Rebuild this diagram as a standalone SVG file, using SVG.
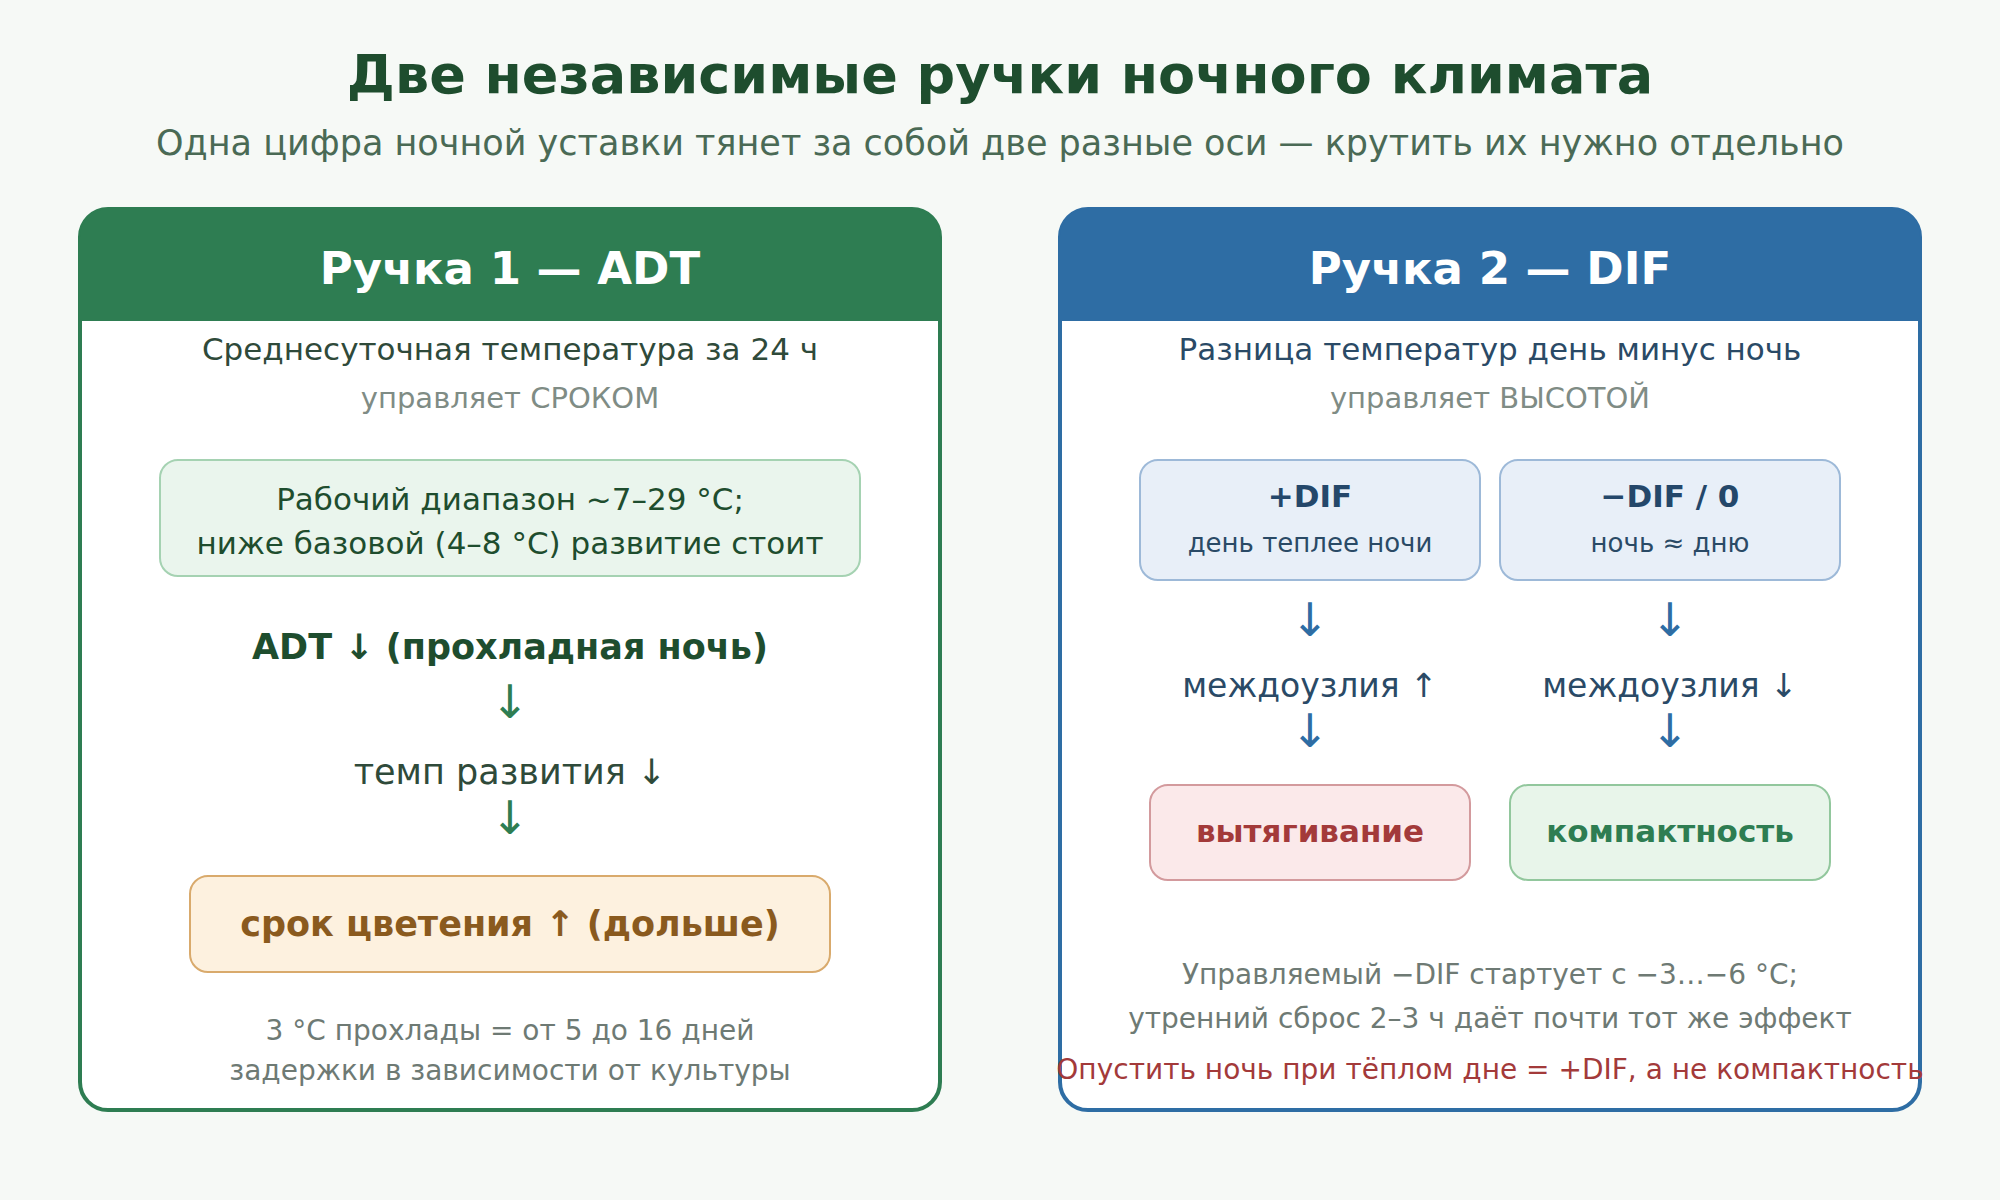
<svg xmlns="http://www.w3.org/2000/svg" width="2000" height="1200" viewBox="0 0 2000 1200">
<style>
text{font-family:"DejaVu Sans","Liberation Sans",sans-serif;text-anchor:middle;dominant-baseline:central}
.t{font-size:54px;font-weight:bold;fill:#1e4d2e}
.st{font-size:35px;fill:#4a6a55}
.h{font-size:45px;font-weight:bold;fill:#fff}
.d{font-size:31px;fill:#2f4a3a}
.db{font-size:31px;fill:#2a4a66}
.g{font-size:29px;fill:#7f8c85}
.n{font-size:28px;fill:#6e7a74}
.arg{font-size:46px;fill:#2e7d52}
.arb{font-size:46px;fill:#2e6da4}
</style>
<rect width="2000" height="1200" fill="#f6f9f6"/>
<text class="t" x="1000" y="74">Две независимые ручки ночного климата</text>
<text class="st" x="1000" y="143">Одна цифра ночной уставки тянет за собой две разные оси — крутить их нужно отдельно</text>
<g id="panel-adt">
<rect x="80" y="209" width="860" height="901" rx="28" fill="#fff" stroke="#2e7d52" stroke-width="4"/>
<path d="M80 321 V237 a28 28 0 0 1 28 -28 H912 a28 28 0 0 1 28 28 V321 Z" fill="#2e7d52"/>
<text class="h" x="510" y="268">Ручка 1 — ADT</text>
<text class="d" x="510" y="349">Среднесуточная температура за 24 ч</text>
<text class="g" x="510" y="398">управляет СРОКОМ</text>
</g>
<g id="range">
<rect x="160" y="460" width="700" height="116" rx="18" fill="#eaf5ed" stroke="#a5d2b2" stroke-width="2"/>
<text class="d" x="510" y="499" style="fill:#1e4d2e">Рабочий диапазон ~7–29 °C;</text>
<text class="d" x="510" y="543" style="fill:#1e4d2e">ниже базовой (4–8 °C) развитие стоит</text>
</g>
<g id="adt-chain">
<text x="510" y="647" style="font-size:35px;font-weight:bold;fill:#1e4d2e">ADT ↓ (прохладная ночь)</text>
<text class="d" x="510" y="772" style="font-size:35px">темп развития ↓</text>
</g>
<g id="bloom">
<rect x="190" y="876" width="640" height="96" rx="18" fill="#fdf1df" stroke="#d9aa6c" stroke-width="2"/>
<text x="510" y="924" style="font-size:35px;font-weight:bold;fill:#8a5a1e">срок цветения ↑ (дольше)</text>
</g>
<text class="n" x="510" y="1030">3 °C прохлады = от 5 до 16 дней</text>
<text class="n" x="510" y="1070">задержки в зависимости от культуры</text>
<g id="panel-dif">
<rect x="1060" y="209" width="860" height="901" rx="28" fill="#fff" stroke="#2e6da4" stroke-width="4"/>
<path d="M1060 321 V237 a28 28 0 0 1 28 -28 H1892 a28 28 0 0 1 28 28 V321 Z" fill="#2e6da4"/>
<text class="h" x="1490" y="268">Ручка 2 — DIF</text>
<text class="db" x="1490" y="349">Разница температур день минус ночь</text>
<text class="g" x="1490" y="398">управляет ВЫСОТОЙ</text>
</g>
<g id="pdif">
<rect x="1140" y="460" width="340" height="120" rx="18" fill="#e8eff8" stroke="#9db9d8" stroke-width="2"/>
<text x="1310" y="496" style="font-size:31px;font-weight:bold;fill:#24476a">+DIF</text>
<text x="1310" y="543" style="font-size:26px;fill:#2a4a66">день теплее ночи</text>
</g>
<g id="ndif">
<rect x="1500" y="460" width="340" height="120" rx="18" fill="#e8eff8" stroke="#9db9d8" stroke-width="2"/>
<text x="1670" y="496" style="font-size:31px;font-weight:bold;fill:#24476a">−DIF / 0</text>
<text x="1670" y="543" style="font-size:26px;fill:#2a4a66">ночь ≈ дню</text>
</g>
<text class="db" x="1310" y="685" style="font-size:33px">междоузлия ↑</text>
<text class="db" x="1670" y="685" style="font-size:33px">междоузлия ↓</text>
<g id="stretch">
<rect x="1150" y="785" width="320" height="95" rx="18" fill="#fbe9ea" stroke="#d39a9d" stroke-width="2"/>
<text x="1310" y="831" style="font-size:31px;font-weight:bold;fill:#a33a3a">вытягивание</text>
</g>
<g id="compact">
<rect x="1510" y="785" width="320" height="95" rx="18" fill="#e8f5ea" stroke="#92c79d" stroke-width="2"/>
<text x="1670" y="831" style="font-size:31px;font-weight:bold;fill:#2e7d52">компактность</text>
</g>
<text class="n" x="1490" y="974">Управляемый −DIF стартует с −3…−6 °C;</text>
<text class="n" x="1490" y="1018">утренний сброс 2–3 ч даёт почти тот же эффект</text>
<text x="1490" y="1069" style="font-size:28px;fill:#a33a3a">Опустить ночь при тёплом дне = +DIF, а не компактность</text>
<g id="connectors">
<text class="arg" x="510" y="702">↓</text>
<text class="arg" x="510" y="818">↓</text>
<text class="arb" x="1310" y="620">↓</text>
<text class="arb" x="1670" y="620">↓</text>
<text class="arb" x="1310" y="731">↓</text>
<text class="arb" x="1670" y="731">↓</text>
</g>
</svg>
